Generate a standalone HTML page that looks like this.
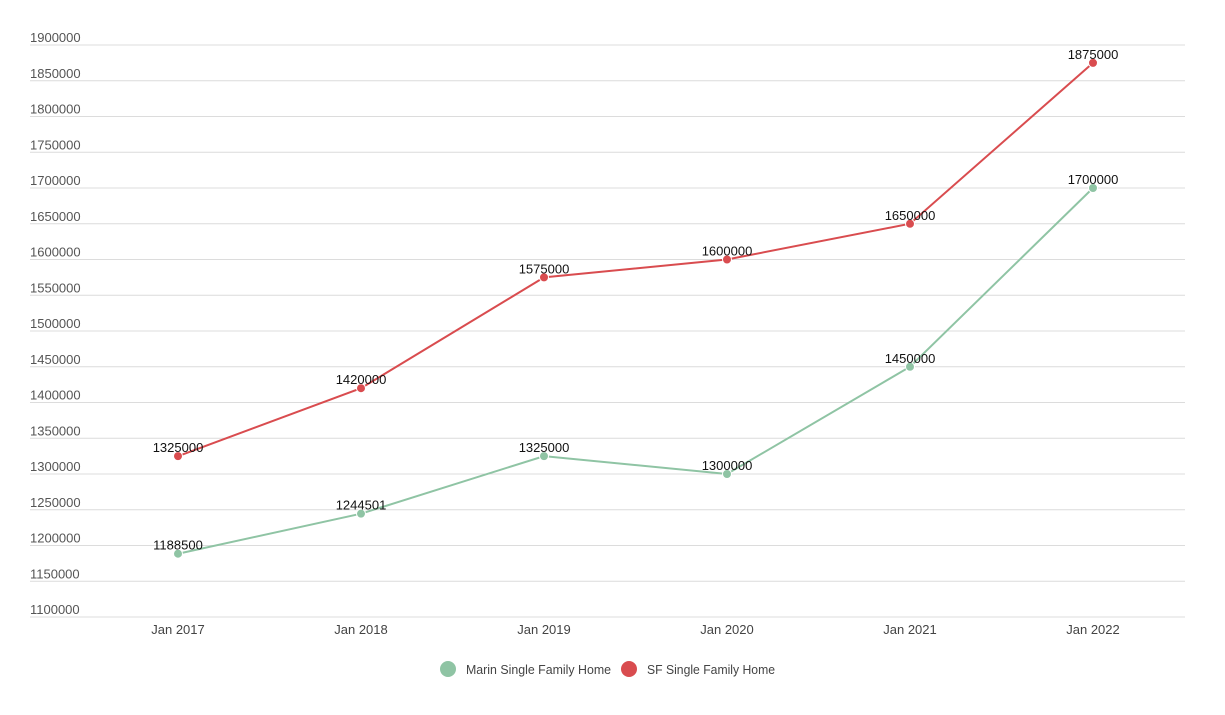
<!DOCTYPE html>
<html><head><meta charset="utf-8"><style>
body{margin:0;background:#fff;font-family:"Liberation Sans",sans-serif}
svg text{font-family:"Liberation Sans",sans-serif}
</style></head><body>
<svg id="chart" width="1225" height="710" xmlns="http://www.w3.org/2000/svg">
<g id="grid"></g>
<g id="series"></g>
<g id="legend">
<g><circle cx="448" cy="669" r="8" fill="#8fc4a4"/><text x="466" y="674" font-size="13" fill="#444" textLength="145" lengthAdjust="spacingAndGlyphs">Marin Single Family Home</text></g>
<g><circle cx="629" cy="669" r="8" fill="#d94c4f"/><text x="647" y="674" font-size="13" fill="#444" textLength="128" lengthAdjust="spacingAndGlyphs">SF Single Family Home</text></g>
</g>
</svg>
<script>
const categories=["Jan 2017","Jan 2018","Jan 2019","Jan 2020","Jan 2021","Jan 2022"];
const marin=[1188500,1244501,1325000,1300000,1450000,1700000];
const sf=[1325000,1420000,1575000,1600000,1650000,1875000];
const yTicks=[1100000,1150000,1200000,1250000,1300000,1350000,1400000,1450000,1500000,1550000,1600000,1650000,1700000,1750000,1800000,1850000,1900000];
const NS="http://www.w3.org/2000/svg";
const yMin=1100000,yMax=1900000,plotTop=45,plotBot=617;
const y=v=>plotBot-(v-yMin)/(yMax-yMin)*(plotBot-plotTop);
const x=i=>178+i*183;
function mk(tag,attrs,parent){const e=document.createElementNS(NS,tag);for(const k in attrs)e.setAttribute(k,attrs[k]);parent.appendChild(e);return e;}
const grid=document.getElementById('grid');
yTicks.forEach(t=>{
 const l=mk('line',{x1:30,x2:1185,y1:y(t),y2:y(t),stroke:'#dcdcdc','stroke-width':1},grid);
 
 
 const tx=mk('text',{x:30,y:y(t)-3,'font-size':13,fill:'#555'},grid);
 tx.textContent=t;
 
 
});
categories.forEach((c,i)=>{
 const tx=mk('text',{x:x(i),y:634,'font-size':13,fill:'#444','text-anchor':'middle'},grid);
 tx.textContent=c;
 
 
});
const sg=document.getElementById('series');
function draw(vals,color,name){
 const g=mk('g',{},sg);
 
 
 const p=mk('polyline',{points:vals.map((v,i)=>x(i)+','+y(v)).join(' '),fill:'none',stroke:color,'stroke-width':2},g);
 
 
 vals.forEach((v,i)=>{
  const c=mk('circle',{cx:x(i),cy:y(v),r:4.5,fill:color,stroke:'#fff','stroke-width':1},g);
  
  
  const t=mk('text',{x:x(i),y:y(v)-4,'font-size':13,fill:'#111','text-anchor':'middle','font-weight':'500'},g);
  t.textContent=v;
  
  
 });
}
draw(marin,'#8fc4a4','marin');
draw(sf,'#d94c4f','sf');
</script>
</body></html>
